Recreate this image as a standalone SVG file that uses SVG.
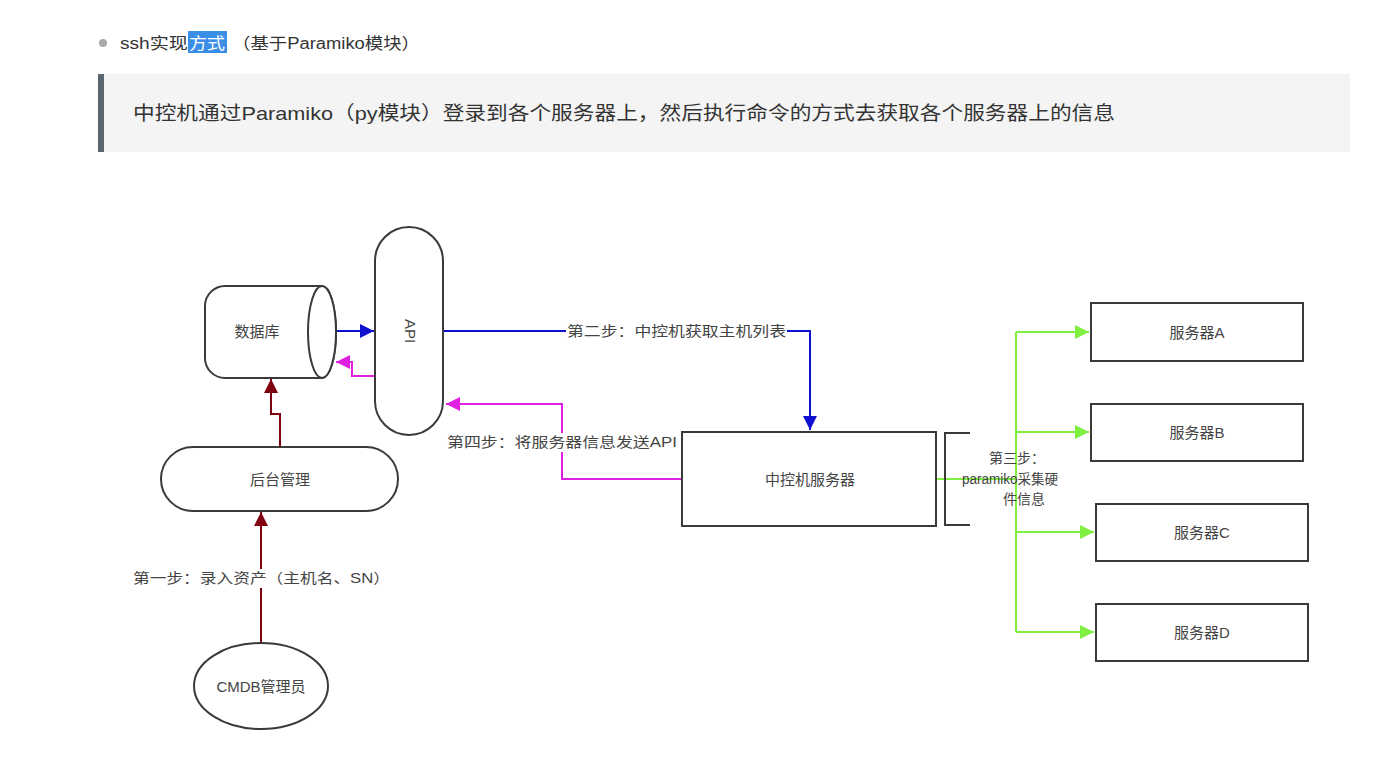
<svg xmlns="http://www.w3.org/2000/svg" width="1374" height="777" viewBox="0 0 1374 777">
<defs>
<style>
text{font-family:"Liberation Sans","Noto Sans CJK SC",sans-serif;fill:#444;}
.lbl{font-size:14px;text-anchor:middle;dominant-baseline:central;}
.node{font-size:15px;text-anchor:middle;dominant-baseline:central;}
.shape{fill:#fff;stroke:#3a3a3a;stroke-width:2;}
.blue{fill:none;stroke:#1010d0;stroke-width:2;}
.mag{fill:none;stroke:#e020e0;stroke-width:2;}
.red{fill:none;stroke:#800010;stroke-width:2;}
.grn{fill:none;stroke:#80f040;stroke-width:2;}
.bg{fill:#fff;}
</style>
<marker id="mb2" viewBox="0 0 10 10" refX="10" refY="5" markerWidth="14" markerHeight="14" orient="auto" markerUnits="userSpaceOnUse"><path d="M0,0 L10,5 L0,10 z" fill="#1010d0"/></marker>
<marker id="mm" viewBox="0 0 10 10" refX="10" refY="5" markerWidth="14" markerHeight="14" orient="auto" markerUnits="userSpaceOnUse"><path d="M0,0 L10,5 L0,10 z" fill="#e020e0"/></marker>
<marker id="mr" viewBox="0 0 10 10" refX="10" refY="5" markerWidth="14" markerHeight="14" orient="auto" markerUnits="userSpaceOnUse"><path d="M0,0 L10,5 L0,10 z" fill="#800010"/></marker>
<marker id="mg" viewBox="0 0 10 10" refX="10" refY="5" markerWidth="14" markerHeight="14" orient="auto" markerUnits="userSpaceOnUse"><path d="M0,0 L10,5 L0,10 z" fill="#80f040"/></marker>
</defs>
<rect width="1374" height="777" fill="#fff"/>
<g id="header">
<circle cx="103" cy="43" r="4" fill="#aaa"/>
<rect x="188" y="31" width="39" height="22" fill="#3a8ee6"/>
<text x="120" y="49" style="font-size:16px;fill:#333" textLength="68" lengthAdjust="spacingAndGlyphs">ssh实现</text>
<text x="189" y="49" style="font-size:16px;fill:#fff" textLength="36" lengthAdjust="spacingAndGlyphs">方式</text>
<text x="232" y="49" style="font-size:16px;fill:#333" textLength="188" lengthAdjust="spacingAndGlyphs">（基于Paramiko模块）</text>
<rect x="98" y="74" width="1252" height="78" fill="#f4f4f4"/>
<rect x="98" y="74" width="6" height="78" fill="#5a6770"/>
<text x="133" y="120" style="font-size:19px;fill:#333" textLength="982" lengthAdjust="spacingAndGlyphs">中控机通过Paramiko（py模块）登录到各个服务器上，然后执行命令的方式去获取各个服务器上的信息</text>
</g>
<g id="connectors">
<line x1="336" y1="331" x2="374" y2="331" class="blue" marker-end="url(#mb2)"/>
<path d="M443,331 H810 V430" class="blue" marker-end="url(#mb2)"/>
<path d="M375,376 H352 V362 H336" class="mag" marker-end="url(#mm)"/>
<path d="M682,479 H562 V404 H446" class="mag" marker-end="url(#mm)"/>
<path d="M280,447 V414 H271 V379" class="red" marker-end="url(#mr)"/>
<line x1="261" y1="643" x2="261" y2="512" class="red" marker-end="url(#mr)"/>
<path d="M936,479 H1016" class="grn"/>
<line x1="1016" y1="332" x2="1016" y2="632" class="grn"/>
<line x1="1016" y1="332" x2="1089" y2="332" class="grn" marker-end="url(#mg)"/>
<line x1="1016" y1="432" x2="1089" y2="432" class="grn" marker-end="url(#mg)"/>
<line x1="1016" y1="532" x2="1094" y2="532" class="grn" marker-end="url(#mg)"/>
<line x1="1016" y1="632" x2="1094" y2="632" class="grn" marker-end="url(#mg)"/>
<path d="M970,433 H945 V525 H970" fill="none" stroke="#3a3a3a" stroke-width="2"/>
<rect x="566" y="322" width="221" height="19" class="bg"/>
<text x="567" y="331" class="lbl" style="text-anchor:start" textLength="219" lengthAdjust="spacingAndGlyphs">第二步：中控机获取主机列表</text>
<rect x="446" y="433" width="232" height="19" class="bg"/>
<text x="447" y="442" class="lbl" style="text-anchor:start" textLength="230" lengthAdjust="spacingAndGlyphs">第四步：将服务器信息发送API</text>
<rect x="131" y="569" width="261" height="19" class="bg"/>
<text x="133" y="578" class="lbl" style="text-anchor:start" textLength="257" lengthAdjust="spacingAndGlyphs">第一步：录入资产（主机名、SN）</text>
<text x="1017" y="458" class="lbl">第三步：</text>
<text x="962" y="479" class="lbl" style="text-anchor:start" textLength="96" lengthAdjust="spacingAndGlyphs">paramiko采集硬</text>
<text x="1024" y="499" class="lbl">件信息</text>
</g>
<g id="db">
<path d="M225,286 H322 A14,46 0 0 1 322,378 H225 A20,20 0 0 1 205,358 V306 A20,20 0 0 1 225,286 Z" class="shape"/>
<ellipse cx="322" cy="332" rx="14" ry="46" class="shape"/>
<text x="257" y="331" class="node">数据库</text>
</g>
<g id="api">
<rect x="375" y="227" width="68" height="208" rx="34" class="shape"/>
<text x="410" y="331" class="node" transform="rotate(90 410 331)">API</text>
</g>
<g id="admin">
<rect x="161" y="447" width="237" height="64" rx="32" class="shape"/>
<text x="280" y="479" class="node">后台管理</text>
</g>
<g id="cmdb">
<ellipse cx="261" cy="686" rx="67" ry="43" class="shape"/>
<text x="261" y="686" class="node">CMDB管理员</text>
</g>
<g id="center">
<rect x="682" y="432" width="254" height="94" class="shape"/>
<text x="810" y="479" class="node">中控机服务器</text>
</g>
<g id="srvA">
<rect x="1091" y="303" width="212" height="58" class="shape"/>
<text x="1197" y="332" class="node">服务器A</text>
</g>
<g id="srvB">
<rect x="1091" y="404" width="212" height="57" class="shape"/>
<text x="1197" y="432" class="node">服务器B</text>
</g>
<g id="srvC">
<rect x="1096" y="504" width="212" height="57" class="shape"/>
<text x="1202" y="532" class="node">服务器C</text>
</g>
<g id="srvD">
<rect x="1096" y="604" width="212" height="57" class="shape"/>
<text x="1202" y="632" class="node">服务器D</text>
</g>
</svg>
